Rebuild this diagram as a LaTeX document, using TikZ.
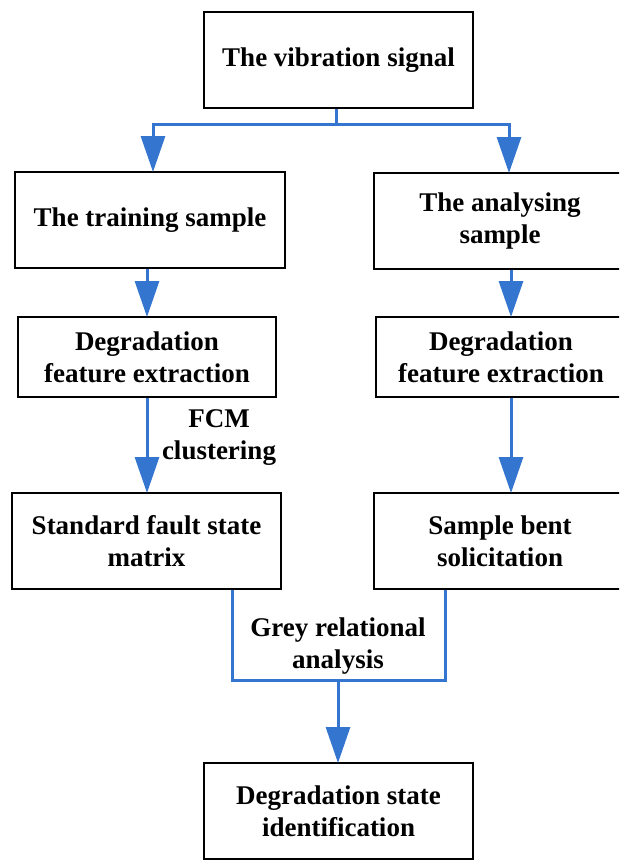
\documentclass[tikz,border=0pt]{standalone}
\usepackage{fontspec}
\setmainfont{Liberation Serif}
\usetikzlibrary{arrows.meta,calc}
\definecolor{flowblue}{RGB}{52,117,208}
\tikzset{
  box/.style={draw=black, line width=2pt, fill=white, inner sep=0pt, align=center,
    font=\fontsize{27pt}{32pt}\selectfont\bfseries},
  lbl/.style={inner sep=0pt, align=center, font=\fontsize{27pt}{32pt}\selectfont\bfseries},
  conn/.style={draw=flowblue, line width=3pt},
  arr/.style={conn, -{Triangle[width=24pt,length=36pt]}, shorten >=-1pt}
}
\begin{document}
\begin{tikzpicture}[x=1pt,y=-1pt]
\clip (0,0) rectangle (619,860);
\fill[white] (0,0) rectangle (619,860);
% boxes
\node[box, minimum width=269pt, minimum height=96pt] (b1) at (338.5,60) {The vibration signal};
\node[box, minimum width=270pt, minimum height=96pt] (b2) at (150,220) {The training sample};
\node[box, minimum width=252pt, minimum height=96pt] (b3) at (500,221) {The analysing\\sample};
\node[box, minimum width=258pt, minimum height=80pt] (b4) at (147,357) {Degradation\\feature extraction};
\node[box, minimum width=250pt, minimum height=80pt] (b5) at (501,357) {Degradation\\feature extraction};
\node[box, minimum width=269pt, minimum height=96pt] (b6) at (146.5,541) {Standard fault state\\matrix};
\node[box, minimum width=252pt, minimum height=96pt] (b7) at (500,541) {Sample bent\\solicitation};
\node[box, minimum width=269pt, minimum height=96pt] (b8) at (338.5,811) {Degradation state\\identification};
% labels
\node[lbl] (l1) at (219,438) {FCM\\clustering};
\node[lbl] (l2) at (338,646) {Grey relational\\analysis};
% connectors
\coordinate (s1) at (336,124);
\draw[conn] (b1.south -| s1) -- (s1);
\draw[arr] (s1) -| ([xshift=3pt]b2.north);
\draw[arr] (s1) -| ([xshift=9pt]b3.north);
\draw[arr] (b2.south -| b4.north) -- (b4.north);
\draw[arr] ([xshift=10pt]b5.north |- b3.south) -- ([xshift=10pt]b5.north);
\draw[arr] (b4.south) -- (b4.south |- b6.north);
\draw[arr] ([xshift=10pt]b5.south) -- ([xshift=10pt]b5.south |- b7.north);
\coordinate (m) at (338,680);
\draw[conn] ([xshift=86pt]b6.south) |- ([xshift=-55pt]b7.south |- m) -- ([xshift=-55pt]b7.south);
\draw[arr] (m) -- (m |- b8.north);
\end{tikzpicture}
\end{document}
